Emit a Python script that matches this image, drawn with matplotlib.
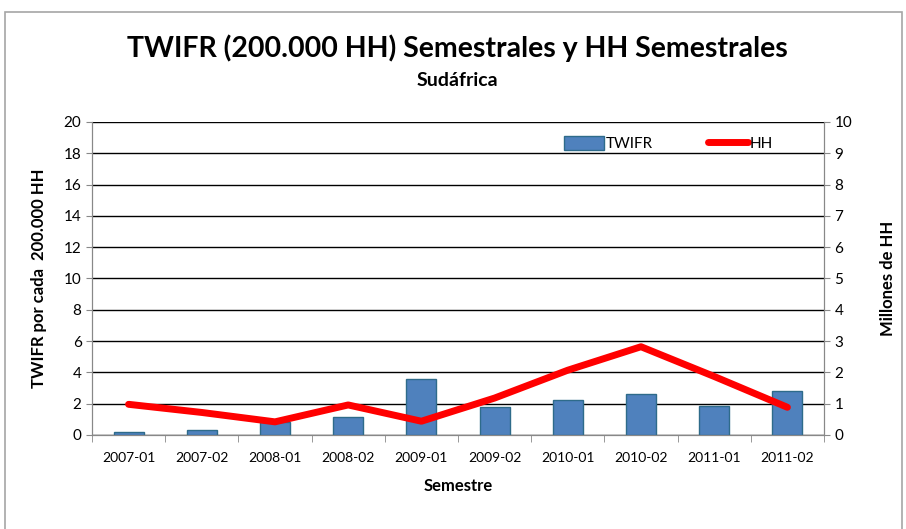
import matplotlib.pyplot as plt
from matplotlib.patches import Rectangle
from matplotlib.lines import Line2D
from matplotlib.patches import Patch
import numpy as np

plt.rcParams['font.family'] = ['Lato', 'DejaVu Sans']

semestres = ['2007-01', '2007-02', '2008-01', '2008-02', '2009-01',
             '2009-02', '2010-01', '2010-02', '2011-01', '2011-02']
twifr = [0.19, 0.3, 0.85, 1.13, 3.56, 1.77, 2.24, 2.62, 1.85, 2.79]
hh = [0.98, 0.72, 0.42, 0.96, 0.44, 1.18, 2.07, 2.82, 1.87, 0.885]

fig = plt.figure(figsize=(9.06, 5.29), dpi=100)
fig.patches.append(Rectangle((0.006, -0.01), 0.99, 0.988, transform=fig.transFigure,
                             fill=False, edgecolor='#a6a6a6', lw=1.2))

ax = fig.add_axes([0.1015, 0.1777, 0.8080, 0.5917])
x = np.arange(len(semestres))
ax.bar(x, twifr, width=0.41, color='#4f81bd', edgecolor='#2e6b8a', lw=1, zorder=3)
ax.set_xlim(-0.5, len(semestres) - 0.5)
ax.set_ylim(0, 20)
ax.set_yticks(range(0, 21, 2))
ax.yaxis.grid(True, color='black', lw=1)
ax.set_axisbelow(True)
ax.set_xticks(x)
ax.set_xticklabels(semestres, fontsize=10)
ax.set_xticks(np.arange(-0.5, len(semestres), 1), minor=True)
ax.tick_params(axis='x', which='major', length=0, pad=12)
ax.tick_params(axis='x', which='minor', length=5, color='#888888')
ax.tick_params(axis='y', labelsize=11, color='#888888', length=4)
for s in ['left', 'bottom', 'right']:
    ax.spines[s].set_color('#888888')
ax.spines['top'].set_visible(False)
ax.set_ylabel('TWIFR por cada  200.000 HH', fontsize=12, fontweight='bold', labelpad=12)
ax.set_xlabel('Semestre', fontsize=12, fontweight='bold', labelpad=10)

ax2 = ax.twinx()
ax2.plot(x, hh, color='#ff0000', lw=5, solid_capstyle='round', zorder=4)
ax2.set_ylim(0, 10)
ax2.set_yticks(range(0, 11))
ax2.tick_params(axis='y', labelsize=11, color='#888888', length=4)
for s in ['left', 'bottom', 'right']:
    ax2.spines[s].set_color('#888888')
ax2.spines['top'].set_visible(False)
ax2.set_ylabel('Millones de HH', fontsize=12, fontweight='bold', labelpad=20)

handles = [Patch(facecolor='#4f81bd', edgecolor='#2e6b8a'),
           Line2D([0], [0], color='#ff0000', lw=5, solid_capstyle='round')]
ax2.legend(handles, ['TWIFR', 'HH'], loc='upper right', bbox_to_anchor=(0.949, 1.0),
           ncol=2, frameon=False, fontsize=11, handlelength=2.6, handleheight=1.1,
           handletextpad=0.1, columnspacing=3.65)

fig.text(0.505, 0.908, 'TWIFR (200.000 HH) Semestrales y HH Semestrales',
         ha='center', va='center', fontsize=20.5, fontweight='bold')
fig.text(0.505, 0.848, 'Sudáfrica', ha='center', va='center', fontsize=14, fontweight='bold')

fig.savefig('out.png', dpi=100)
